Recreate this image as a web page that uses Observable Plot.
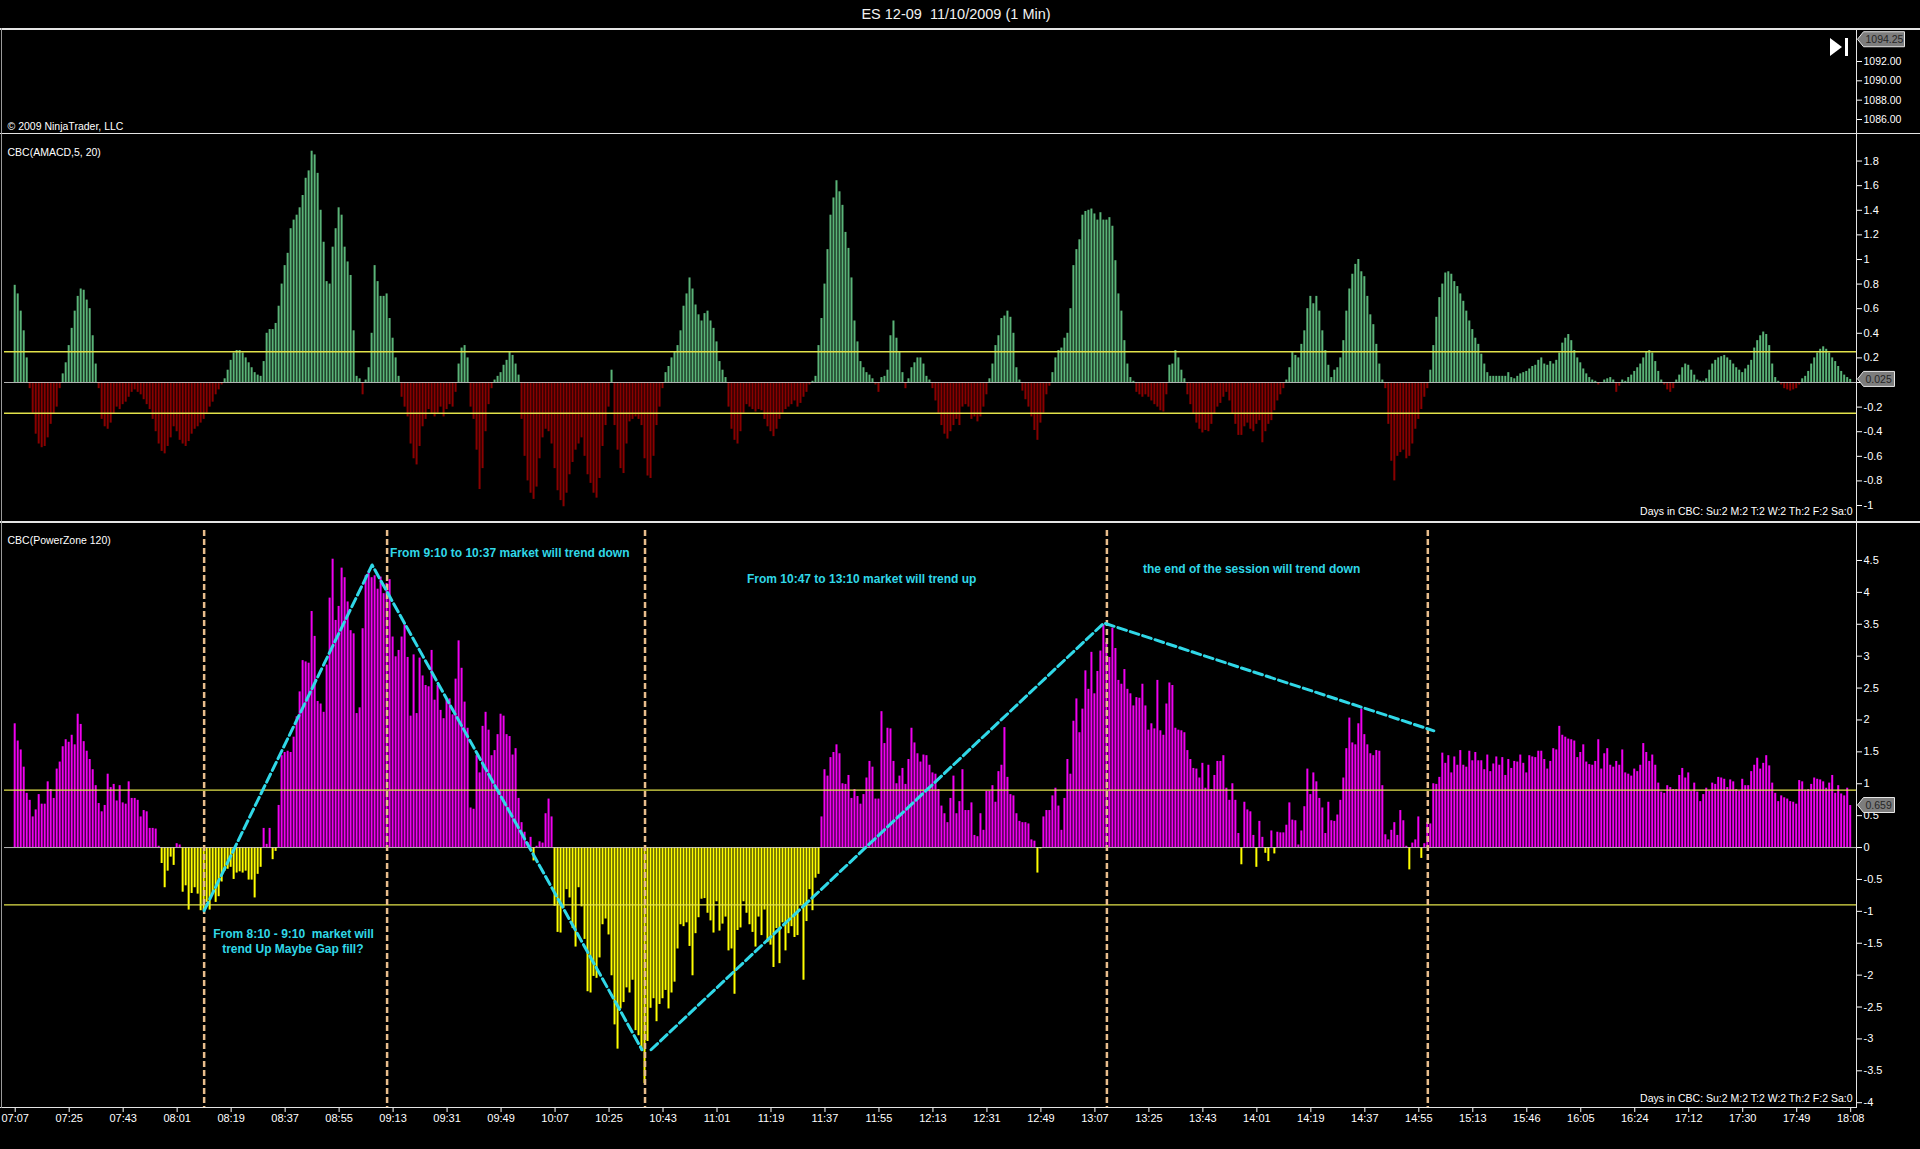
<!DOCTYPE html>
<html><head><meta charset="utf-8">
<script src="https://cdn.jsdelivr.net/npm/d3@7"></script>
<script src="https://cdn.jsdelivr.net/npm/@observablehq/plot@0.6"></script>
<style>
html,body{margin:0;padding:0;background:#000;}
#root{position:relative;width:1920px;height:1149px;background:#000;overflow:hidden;font-family:"Liberation Sans",Arial,sans-serif;color:#fff;}
.abs{position:absolute;}
.line{position:absolute;background:#e4e4e4;}
.panel{position:absolute;left:0;}
</style></head><body><div id="root"></div>
<script>
// ---------- data ----------
const chartTitle = "ES 12-09  11/10/2009 (1 Min)";
const copyright = "© 2009 NinjaTrader, LLC";
const macdLabel = "CBC(AMACD,5, 20)";
const pzLabel = "CBC(PowerZone 120)";
const daysText = "Days in CBC: Su:2 M:2 T:2 W:2 Th:2 F:2 Sa:0";

const timeLabels = ["07:07","07:25","07:43","08:01","08:19","08:37","08:55","09:13","09:31","09:49","10:07","10:25","10:43","11:01","11:19","11:37","11:55","12:13","12:31","12:49","13:07","13:25","13:43","14:01","14:19","14:37","14:55","15:13","15:46","16:05","16:24","17:12","17:30","17:49","18:08"];
const barsPerLabel = 18;

const priceTicks = [1086, 1088, 1090, 1092];
const priceDomain = [1084.55, 1095.31];
const lastPrice = 1094.25;

const macdTicks = [-1,-0.8,-0.6,-0.4,-0.2,0,0.2,0.4,0.6,0.8,1,1.2,1.4,1.6,1.8];
const macdDomain = [-1.138, 2.024];
const macdBands = [0.25, -0.25];
const macdLast = 0.025;

const pzTicks = [-4,-3.5,-3,-2.5,-2,-1.5,-1,-0.5,0,0.5,1,1.5,2,2.5,3,3.5,4,4.5];
const pzDomain = [-4.075, 4.97];
const pzBands = [0.9, -0.9];
const pzLast = 0.659;

const macdValues = [
 0.79,0.72,0.58,0.42,0.2,
 -0.05,-0.25,-0.42,-0.5,-0.53,-0.52,-0.45,-0.34,-0.26,-0.2,-0.05,
 0.07,0.16,0.3,0.44,0.58,0.7,0.76,0.75,0.67,0.6,0.38,0.15,
 -0.05,
 -0.3,-0.36,-0.38,-0.33,-0.26,-0.2,-0.22,-0.18,-0.16,-0.12,-0.08,-0.06,-0.08,-0.1,-0.14,-0.18,-0.22,-0.3,-0.4,-0.5,-0.56,-0.58,-0.52,-0.45,-0.36,-0.4,-0.47,-0.5,-0.52,-0.48,-0.42,-0.38,-0.36,-0.33,-0.3,-0.25,-0.2,-0.16,-0.1,-0.06,-0.02,
 0.03,0.1,0.18,0.24,0.26,0.26,0.24,0.2,0.16,0.12,0.08,0.06,0.05,
 0.17,0.4,0.43,0.43,0.48,0.62,0.8,0.95,1.05,1.25,1.32,1.36,1.42,1.52,1.66,1.72,1.88,1.85,1.7,1.4,1.14,0.82,0.8,1.1,1.25,1.42,1.36,1.1,0.98,0.87,0.42,0.05,
 0.03,-0.1,0.02,0.12,0.4,0.95,0.82,0.7,0.7,0.72,0.52,0.36,0.2,0.05,
 -0.12,-0.2,-0.28,-0.5,-0.62,-0.67,-0.52,-0.36,-0.3,-0.22,-0.26,-0.28,-0.25,-0.2,-0.28,-0.22,-0.18,-0.2,-0.08,
 0.15,0.28,0.3,0.2,
 -0.2,-0.3,-0.55,-0.87,-0.7,-0.4,-0.18,-0.05,
 0.02,0.05,0.08,0.14,0.18,0.25,0.22,0.15,0.06,
 -0.3,-0.6,-0.8,-0.9,-0.95,-0.85,-0.62,-0.45,-0.38,-0.4,-0.5,-0.7,-0.88,-0.96,-1.01,-0.9,-0.75,-0.65,-0.55,-0.5,-0.45,-0.6,-0.75,-0.82,-0.9,-0.94,-0.78,-0.52,-0.35,-0.2,
 0.1,
 -0.35,-0.55,-0.7,-0.74,-0.5,-0.32,-0.3,-0.28,-0.3,-0.35,-0.62,-0.76,-0.78,-0.6,-0.35,-0.2,
 -0.05,
 0.08,0.13,0.2,0.25,0.3,0.42,0.62,0.72,0.85,0.76,0.63,0.55,0.5,0.56,0.58,0.5,0.44,0.33,0.17,0.1,0.04,
 -0.2,-0.38,-0.47,-0.5,-0.4,-0.25,-0.18,-0.2,-0.22,-0.24,-0.22,-0.23,-0.3,-0.36,-0.4,-0.44,-0.38,-0.3,-0.25,-0.22,-0.2,-0.18,-0.15,-0.2,-0.17,-0.12,-0.08,-0.02,
 0.01,0.05,
 0.3,0.52,0.8,1.08,1.36,1.5,1.64,1.55,1.44,1.22,1.09,0.85,0.5,0.33,0.17,0.12,0.08,0.06,0.03,
 -0.02,-0.08,
 0.04,0.05,0.1,0.38,0.5,0.36,0.25,0.08,
 -0.05,
 0.03,0.12,0.16,0.2,0.2,0.15,0.05,0.02,
 -0.05,-0.15,-0.25,-0.35,-0.42,-0.46,-0.4,-0.35,-0.3,-0.35,-0.2,-0.18,-0.2,-0.3,-0.28,-0.32,-0.28,-0.2,-0.1,
 0.03,
 0.15,0.3,0.38,0.52,0.54,0.58,0.53,0.4,0.12,0.02,
 -0.07,-0.14,-0.2,-0.28,-0.39,-0.47,-0.33,-0.25,-0.1,-0.03,
 0.08,
 0.2,0.26,0.28,0.36,0.4,0.6,0.95,1.08,1.16,1.36,1.39,1.4,1.41,1.37,1.32,1.38,1.32,1.32,1.34,1.27,0.99,0.72,0.58,0.34,0.15,0.04,
 0.01,
 -0.08,-0.1,-0.12,-0.1,-0.12,-0.15,-0.18,-0.2,-0.23,-0.24,-0.1,
 0.14,0.15,0.26,0.2,0.1,0.03,
 -0.1,-0.18,-0.26,-0.33,-0.38,-0.41,-0.39,-0.4,-0.34,-0.26,-0.2,-0.17,-0.12,-0.08,-0.15,-0.26,-0.34,-0.43,-0.43,-0.36,-0.33,-0.38,-0.4,-0.34,-0.31,-0.49,-0.4,-0.34,-0.31,-0.23,-0.15,-0.1,-0.05,
 0.02,
 0.12,0.25,0.22,0.2,0.31,0.42,0.6,0.7,0.64,0.7,0.58,0.42,0.26,0.14,0.04,
 0.1,0.12,0.2,0.34,0.58,0.76,0.88,0.96,1.0,0.9,0.86,0.7,0.55,0.47,0.31,0.15,
 0.02,
 -0.05,-0.34,-0.64,-0.8,-0.6,-0.57,-0.55,-0.62,-0.6,-0.5,-0.38,-0.3,-0.22,-0.12,-0.05,
 0.1,0.3,0.53,0.69,0.8,0.89,0.9,0.88,0.82,0.78,0.72,0.66,0.58,0.5,0.43,0.36,0.31,0.23,0.15,0.08,
 0.05,0.05,0.05,0.05,0.05,0.05,0.08,0.04,0.03,
 0.05,0.07,0.08,0.09,0.11,0.13,0.14,0.18,0.2,0.15,0.14,0.17,0.15,0.18,0.24,0.32,0.36,0.39,0.34,0.26,0.2,0.16,0.11,0.07,0.04,
 0.02,0.01,-0.02,0.0,0.02,0.03,0.04,0.02,-0.08,-0.03,0.02,0.01,
 0.04,0.06,0.09,0.12,0.15,0.2,0.25,0.26,0.24,0.17,0.09,
 0.02,-0.02,-0.06,-0.08,-0.05,
 0.02,0.06,0.12,0.15,0.14,0.1,0.06,0.02,0.01,
 0.01,0.03,0.1,0.15,0.18,0.2,0.21,0.22,0.2,0.18,0.15,0.12,0.1,0.08,0.11,0.14,
 0.18,0.28,0.34,0.38,0.41,0.39,0.3,0.15,0.04,
 0.01,-0.02,-0.05,-0.06,-0.07,-0.06,-0.05,-0.02,
 0.03,0.05,0.09,0.15,0.2,0.24,0.27,0.29,0.27,0.24,0.2,0.17,0.13,0.09,0.06,0.04,0.025
];

// PowerZone 120 values, 07:07 .. 09:47
const powerZoneA = [
 1.94,1.67,1.53,1.26,0.85,0.74,0.48,0.59,0.83,0.68,
 0.68,1.03,0.91,0.77,1.23,1.34,1.58,1.69,1.65,1.76,
 1.61,2.09,1.93,1.66,1.51,1.38,1.22,0.97,0.69,0.56,
 0.66,1.15,0.94,0.99,0.73,0.97,0.7,0.68,1.03,0.77,
 0.77,0.74,0.48,0.58,0.56,0.3,0.3,0.29,0.02,-0.25,
 -0.63,-0.37,-0.15,-0.28,0.06,0.04,-0.7,-0.6,-0.98,-0.72,
 -0.63,-0.73,-0.99,-0.99,-0.86,-0.98,-0.72,-0.86,-0.77,-0.54,
 -0.37,-0.34,-0.31,-0.5,-0.4,-0.38,-0.4,-0.37,-0.51,-0.51,
 -0.79,-0.42,-0.31,0.3,0.05,0.3,-0.19,-0.06,0.66,1.44,
 1.49,1.51,1.49,1.73,2.05,2.44,2.93,2.91,2.89,3.7,
 3.31,2.29,2.25,2.12,2.86,3.91,4.52,3.56,3.78,4.38,
 4.23,3.85,3.4,3.35,2.1,2.19,3.43,4.26,4.33,4.23,
 4.26,4.05,4.24,3.98,4.14,4.2,3.3,2.99,3.09,3.3,
 3.49,2.98,2.06,3.02,2.1,2.97,2.69,2.54,2.52,3.09,
 2.31,2.54,2.15,2.02,2.31,2.33,2.08,2.64,3.24,2.81,
 2.28,1.87,0.62,0.6,1.44,1.17
];
// 09:49 .. 12:28
const powerZoneB = [
 1.9,2.12,1.84,1.44,1.52,1.77,2.09,2.06,1.77,1.74,
 1.45,1.55,0.77,0.39,0.24,0.08,0.16,-0.21,0.02,0.09,
 0.07,0.53,0.76,0.48,-0.92,-1.33,-1.34,-0.95,-0.66,-0.79,
 -1.27,-1.56,-0.63,-0.93,-1.44,-2.26,-2.28,-2.02,-2.05,-1.73,
 -1.21,-1.12,-1.37,-2.01,-2.78,-3.16,-2.53,-2.43,-2.2,-2.28,
 -2.08,-2.87,-2.95,-3.19,-3.7,-3.04,-2.52,-2.37,-2.73,-2.46,
 -2.37,-2.24,-2.53,-2.28,-2.11,-1.59,-1.21,-1.24,-1.18,-1.55,
 -2.01,-1.35,-1.1,-0.81,-0.8,-1.03,-1.15,-1.34,-0.85,-1.31,
 -1.2,-1.09,-1.62,-1.59,-2.3,-1.3,-1.26,-0.85,-1.03,-1.21,
 -1.33,-1.56,-1.09,-1.38,-0.98,-1.49,-1.53,-1.88,-1.27,-1.82,
 -1.18,-1.62,-1.35,-1.24,-1.41,-1.38,-0.91,-2.08,-1.16,-0.66,
 -0.99,-0.48,-0.42,0.48,1.22,1.12,1.41,1.49,1.61,1.47,
 1.0,0.99,1.13,0.77,0.91,0.8,0.68,0.83,1.09,1.35,
 1.26,0.76,0.76,2.13,1.63,1.87,1.86,1.35,1.0,1.12,
 1.24,0.99,1.38,1.87,1.64,1.47,1.34,1.45,1.44,1.29,
 1.17,1.15,0.91,0.65,0.53,0.39,0.77,1.12,0.53,0.72
];
// 12:29 .. 15:08
const powerZoneC = [
 1.22,0.58,0.58,0.7,0.19,0.17,0.53,0.27,0.88,0.88,
 0.97,0.71,1.19,1.29,1.88,1.1,0.83,0.81,0.53,0.41,
 0.39,0.39,0.37,0.12,0.1,-0.4,-0.02,0.48,0.58,0.58,
 0.81,0.93,0.65,0.27,0.77,1.38,1.15,1.98,2.33,1.8,
 2.17,2.77,2.48,3.06,2.41,2.76,3.08,3.49,3.21,2.98,
 3.44,3.12,2.62,2.56,2.79,2.48,2.41,2.22,2.35,2.34,
 2.56,2.22,1.84,1.94,1.86,2.62,1.83,1.76,2.25,2.58,
 2.54,1.87,1.84,1.83,1.8,1.52,1.38,1.24,1.23,1.09,
 1.32,0.93,1.29,0.91,1.13,1.35,1.35,1.44,0.93,0.74,
 1.0,0.74,0.22,-0.27,0.71,0.59,0.56,0.19,-0.31,0.41,
 0.16,-0.09,-0.22,0.26,-0.1,0.24,0.23,0.23,0.35,0.7,
 0.43,0.42,0.04,0.26,0.64,1.23,0.83,1.17,1.03,0.77,
 0.62,0.22,0.71,0.42,0.41,0.51,0.74,1.09,1.55,2.03,
 1.64,1.61,1.94,2.17,1.77,1.61,1.47,1.44,1.52,1.51,
 0.97,0.2,0.12,0.27,0.39,0.19,0.58,0.42,0.02,-0.35,
 0.07,0.12,0.48,-0.17,0.06,0.39,0.37,1.0,0.99,1.1
];
// 15:09 .. 18:08
const powerZoneD = [
 1.48,1.32,1.44,1.17,1.42,1.29,1.52,1.29,1.26,1.51,
 1.36,1.49,1.36,1.36,1.22,1.45,1.19,1.31,1.42,1.29,
 1.41,1.13,1.38,1.24,1.35,1.34,1.45,1.32,1.17,1.44,
 1.42,1.41,1.51,1.51,1.38,1.23,1.35,1.55,1.53,1.9,
 1.76,1.73,1.7,1.69,1.67,1.41,1.49,1.61,1.34,1.3,
 1.29,1.35,1.69,1.23,1.47,1.55,1.29,1.26,1.35,1.29,
 1.53,1.17,1.15,1.12,1.23,1.19,1.29,1.63,1.49,1.35,
 1.45,1.29,1.01,0.87,0.85,0.97,0.94,0.91,0.91,1.13,
 1.24,1.09,1.17,0.88,1.01,0.87,0.72,0.83,0.93,0.88,
 1.01,0.99,1.1,1.09,1.07,0.94,1.06,1.03,0.91,0.88,
 1.07,0.97,0.97,1.19,1.29,1.4,1.23,1.32,1.44,1.28,
 1.01,0.85,0.72,0.81,0.78,0.76,0.72,0.71,0.68,1.05,
 1.03,0.9,0.91,0.99,1.09,1.07,1.06,1.03,0.93,1.01,
 1.13,0.85,0.97,0.84,0.81,0.93,0.659
];

// session markers (bar index) and hand-drawn trend lines
const sessionMarkers = [63, 124, 210, 364, 471];
const trendAx = [63, 119, 209];
const trendAy = [-0.99, 4.43, -3.17];
const trendBx = [212, 363, 473];
const trendBy = [-3.17, 3.52, 1.83];

const noteText = ["From 9:10 to 10:37 market will trend down", "From 10:47 to 13:10 market will trend up", "the end of the session will trend down", "From 8:10 - 9:10\u00a0 market will", "trend Up Maybe Gap fill?"];
const noteX = [125, 244, 376, 66, 69];
const noteY = [4.62, 4.2, 4.36, -1.35, -1.6];

// ---------- build ----------
const W = 1920, MR = 64, ML = 4;
const powerZoneValues = powerZoneA.concat(powerZoneB, powerZoneC, powerZoneD);
const N = Math.max(macdValues.length, powerZoneValues.length);
const idx = d3.range(N);
const xScale = {type: "band", domain: idx, range: [13.2, 1851.7], padding: 0, axis: null};
const FONT = "'Liberation Sans', Arial, sans-serif";
const COL = {green: "#5ab478", red: "#8a0000", magenta: "#f000f0", yellow: "#ffff00", band: "#e2e24a", zero: "#c8c8c8", cyan: "#30d8e8", marker: "#e8bd8c"};
const fmt1 = d => String(Math.round(d * 10) / 10);

const root = document.getElementById("root");
function addDiv(cls, css, text) { const d = document.createElement("div"); d.className = cls; d.style.cssText = css; if (text != null) d.textContent = text; root.appendChild(d); return d; }

function addTag(chart, value, label, w) {
  const y = chart.scale("y").apply(value);
  const x0 = W - MR + 1.5;
  const g = d3.select(chart).append("g").attr("text-anchor", "start");
  g.append("path").attr("d", `M${x0},${y} L${x0 + 6},${y - 7.5} H${x0 + 6 + w} V${y + 7.5} H${x0 + 6} Z`).attr("fill", "#7d7d7d").attr("stroke", "#e6e6e6").attr("stroke-width", 1);
  g.append("text").attr("x", x0 + 8).attr("y", y).attr("dy", "0.36em").attr("text-anchor", "start").attr("fill", "#262626").attr("font-size", 10.5).attr("font-family", FONT).text(label);
}

// title
addDiv("abs", `left:956px;top:6px;transform:translateX(-50%);font-size:14.5px;white-space:pre;color:#f2f2f2;`, chartTitle);

// price panel
const pricePlot = Plot.plot({
  width: W, height: 104, marginTop: 0, marginBottom: 0, marginLeft: ML, marginRight: MR,
  style: {background: "transparent", color: "#fff", fontFamily: FONT, fontSize: "10.5px"},
  y: {domain: priceDomain, label: null},
  marks: [
    Plot.axisY({anchor: "right", label: null, ticks: priceTicks, tickFormat: d => d.toFixed(2), tickSize: 5, tickPadding: 2, fontSize: 10.5}),
    Plot.text([copyright], {frameAnchor: "bottom-left", dx: 3, dy: -4, fill: "#fff", fontSize: 10.5})
  ]
});
addTag(pricePlot, lastPrice, "1094.25", 41);
const p1 = addDiv("panel", "top:29px;"); p1.appendChild(pricePlot);

// MACD panel (the 0 label sits under the last-value tag)
const macdPlot = Plot.plot({
  width: W, height: 389, marginTop: 0, marginBottom: 0, marginLeft: ML, marginRight: MR,
  style: {background: "transparent", color: "#fff", fontFamily: FONT, fontSize: "11px"},
  x: xScale,
  y: {domain: macdDomain, label: null},
  color: {type: "identity"},
  marks: [
    Plot.barY(idx, {x: d => d, y: d => macdValues[d], fill: d => macdValues[d] >= 0 ? COL.green : COL.red, insetLeft: 0.5, insetRight: 0.5}),
    Plot.ruleY([0], {stroke: COL.zero, strokeWidth: 1, strokeOpacity: 0.9}),
    Plot.ruleY(macdBands, {stroke: COL.band, strokeWidth: 1.3}),
    Plot.axisY({anchor: "right", label: null, ticks: macdTicks, tickFormat: d => d === 0 ? "" : fmt1(d), tickSize: 5, tickPadding: 2, fontSize: 11}),
    Plot.text([macdLabel], {frameAnchor: "top-left", dx: 3, dy: 15, fill: "#fff", fontSize: 10.5}),
    Plot.text([daysText], {frameAnchor: "bottom-right", dx: -4, dy: -8, fill: "#fff", fontSize: 10.5})
  ]
});
addTag(macdPlot, macdLast, "0.025", 31);
const p2 = addDiv("panel", "top:133px;"); p2.appendChild(macdPlot);

// PowerZone panel
const tickIdx = timeLabels.map((_, k) => k * barsPerLabel);
const trendA = trendAx.map((x, k) => ({i: x, v: trendAy[k]}));
const trendB = trendBx.map((x, k) => ({i: x, v: trendBy[k]}));
const notes = noteText.map((t, k) => ({t, i: noteX[k], v: noteY[k]}));
const pzPlot = Plot.plot({
  width: W, height: 627, marginTop: 8, marginBottom: 42, marginLeft: ML, marginRight: MR,
  style: {background: "transparent", color: "#fff", fontFamily: FONT, fontSize: "11px"},
  x: {...xScale, label: null},
  y: {domain: pzDomain, label: null},
  color: {type: "identity"},
  marks: [
    Plot.barY(idx, {x: d => d, y: d => powerZoneValues[d], fill: d => powerZoneValues[d] >= 0 ? COL.magenta : COL.yellow, insetLeft: 0.5, insetRight: 0.5}),
    Plot.ruleY([0], {stroke: COL.zero, strokeWidth: 1, strokeOpacity: 0.9}),
    Plot.ruleY(pzBands, {stroke: COL.band, strokeWidth: 1.3}),
    Plot.ruleX(sessionMarkers, {x: d => d, stroke: COL.marker, strokeWidth: 2.5, strokeDasharray: "6,3"}),
    Plot.line(trendA, {x: "i", y: "v", stroke: COL.cyan, strokeWidth: 3, strokeDasharray: "9,4"}),
    Plot.line(trendB, {x: "i", y: "v", stroke: COL.cyan, strokeWidth: 3, strokeDasharray: "9,4"}),
    Plot.text(notes, {x: "i", y: "v", text: "t", textAnchor: "start", fill: COL.cyan, fontWeight: "bold", fontSize: 12}),
    Plot.axisY({anchor: "right", label: null, ticks: pzTicks, tickFormat: fmt1, tickSize: 5, tickPadding: 2, fontSize: 11}),
    Plot.axisX({anchor: "bottom", label: null, ticks: tickIdx, tickFormat: i => timeLabels[i / barsPerLabel], tickSize: 5, tickPadding: 2, fontSize: 11}),
    Plot.text([pzLabel], {frameAnchor: "top-left", dx: 3, dy: 6, fill: "#fff", fontSize: 10.5}),
    Plot.text([daysText], {frameAnchor: "bottom-right", dx: -4, dy: -6, fill: "#fff", fontSize: 10.5})
  ]
});
addTag(pzPlot, pzLast, "0.659", 31);
const p3 = addDiv("panel", "top:522px;"); p3.appendChild(pzPlot);

// frame lines
addDiv("line", "left:0;top:28px;width:1920px;height:1.5px;");
addDiv("line", "left:0;top:132.5px;width:1920px;height:1.5px;");
addDiv("line", "left:0;top:521px;width:1920px;height:1.5px;");
addDiv("line", "left:0;top:1106.5px;width:1857px;height:1.5px;");
addDiv("line", "left:1855.5px;top:28px;width:1.5px;height:1080px;");
addDiv("line", "left:1px;top:28px;width:1px;height:1080px;background:#9a9a9a;");

// play-to-end icon
const icon = addDiv("abs", "left:1830px;top:38px;width:20px;height:18px;");
icon.innerHTML = '<svg width="20" height="18"><polygon points="0,0 0,18 12,9" fill="#fff"/><rect x="15" y="0" width="3" height="18" fill="#fff"/></svg>';
</script></body></html>
